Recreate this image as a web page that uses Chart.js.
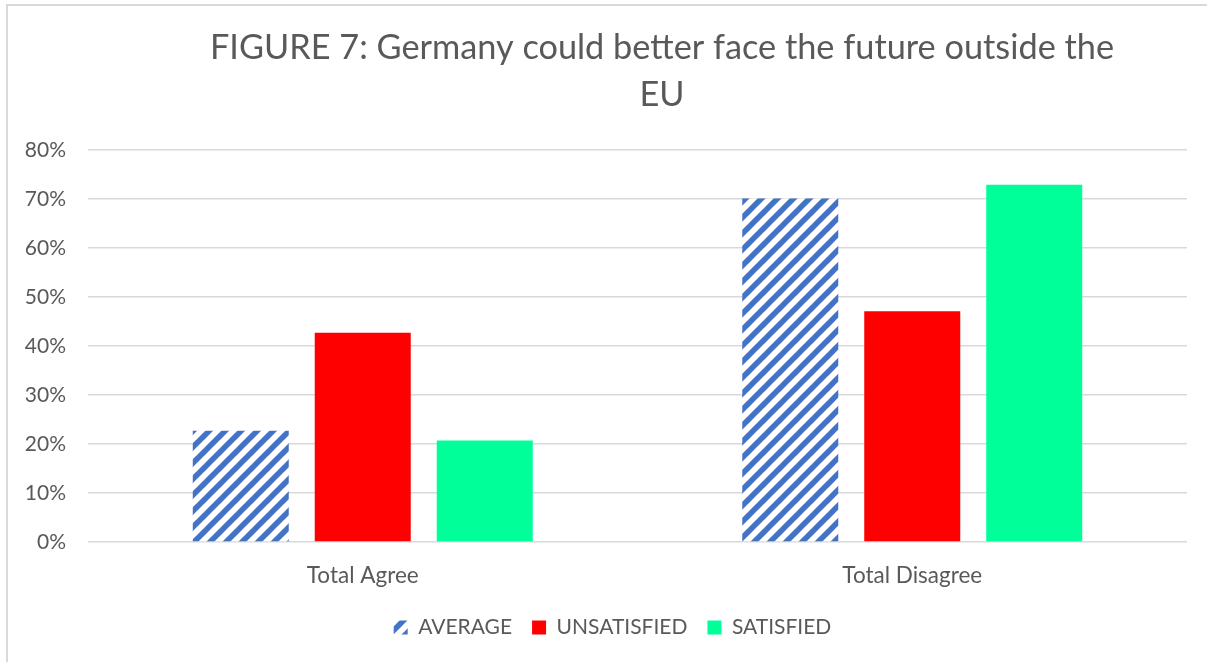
<!DOCTYPE html>
<html>
<head>
<meta charset="utf-8">
<script src="https://cdn.jsdelivr.net/npm/chart.js@4/dist/chart.umd.min.js"></script>
<style>
  html, body { margin: 0; padding: 0; background: #ffffff; }
  #wrap { position: relative; width: 1207px; height: 662px; overflow: hidden; }
  #frame { position: absolute; left: 6px; top: 4px; width: 1300px; height: 700px;
           border-left: 2px solid #d9d9d9; border-top: 2px solid #d9d9d9; box-sizing: border-box; }
  canvas { position: absolute; left: 0; top: 0; }
</style>
</head>
<body>
<div id="wrap">
  <div id="frame"></div>
  <canvas id="chart" width="1207" height="662"></canvas>
</div>
<script>
// Survey answers, in percent
const titleLines = ['FIGURE 7: Germany could better face the future outside the', 'EU'];
const categories = ['Total Agree', 'Total Disagree'];
const seriesNames = ['AVERAGE', 'UNSATISFIED', 'SATISFIED'];
const averageValues = [22.7, 70.1];
const unsatisfiedValues = [42.7, 47.1];
const satisfiedValues = [20.7, 72.9];
const yTicks = [0, 10, 20, 30, 40, 50, 60, 70, 80];

const FONT = 'Lato, "Open Sans", sans-serif';
const TEXT = '#595959';

// Diagonal blue hatching for the average series
function makeHatch() {
  const s = 16;
  const c = document.createElement('canvas');
  c.width = s; c.height = s;
  const g = c.getContext('2d');
  g.fillStyle = '#ffffff';
  g.fillRect(0, 0, s, s);
  g.strokeStyle = '#4472C4';
  g.lineWidth = 5.5;
  g.lineCap = 'square';
  [[-s, s, s, -s], [0, s, s, 0], [0, 2 * s, 2 * s, 0]].forEach(([x1, y1, x2, y2]) => {
    g.beginPath(); g.moveTo(x1, y1); g.lineTo(x2, y2); g.stroke();
  });
  return g.createPattern(c, 'repeat');
}

const titlePlugin = {
  id: 'twoLineTitle',
  afterDraw(chart) {
    const ctx = chart.ctx;
    ctx.save();
    ctx.fillStyle = TEXT;
    ctx.font = '34.3px ' + FONT;
    ctx.textAlign = 'center';
    ctx.textBaseline = 'middle';
    ctx.fillText(titleLines[0], 662, 48);
    ctx.fillText(titleLines[1], 662, 95);
    ctx.restore();
  }
};

// Centre the legend under the plot area rather than the whole canvas
const legendShift = {
  id: 'legendShift',
  afterLayout(chart) {
    const lg = chart.legend;
    if (!lg) return;
    const dx = (chart.chartArea.left + chart.chartArea.right) / 2 - (lg.left + lg.right) / 2 - 25;
    lg.left += dx;
    lg.right += dx;
  }
};

const hatch = makeHatch();

new Chart(document.getElementById('chart'), {
  type: 'bar',
  data: {
    labels: categories,
    datasets: [
      { label: seriesNames[0], data: averageValues, backgroundColor: hatch },
      { label: seriesNames[1], data: unsatisfiedValues, backgroundColor: '#FF0000' },
      { label: seriesNames[2], data: satisfiedValues, backgroundColor: '#00FF99' }
    ]
  },
  options: {
    responsive: false,
    animation: false,
    categoryPercentage: 0.666,
    barPercentage: 0.787,
    layout: { padding: { top: 150, left: 18, right: 20, bottom: 14 } },
    plugins: {
      title: { display: false },
      tooltip: { enabled: false },
      legend: {
        position: 'bottom',
        labels: {
          color: TEXT,
          font: { family: FONT, size: 21 },
          boxWidth: 14,
          boxHeight: 14,
          padding: 20
        }
      }
    },
    scales: {
      x: {
        grid: { display: false },
        border: { display: false },
        ticks: { color: TEXT, font: { family: FONT, size: 22.5 }, padding: 12 },
        afterFit(axis) { axis.height = 55; }
      },
      y: {
        min: 0,
        max: 80,
        afterBuildTicks(axis) { axis.ticks = yTicks.map(v => ({ value: v })); },
        afterFit(axis) { axis.width = 70; },
        grid: { color: '#d9d9d9', lineWidth: 1.5, drawTicks: false },
        border: { display: false },
        ticks: { color: TEXT, font: { family: FONT, size: 21 }, padding: 22, callback: v => v + '%' }
      }
    }
  },
  plugins: [titlePlugin, legendShift]
});
</script>
</body>
</html>
